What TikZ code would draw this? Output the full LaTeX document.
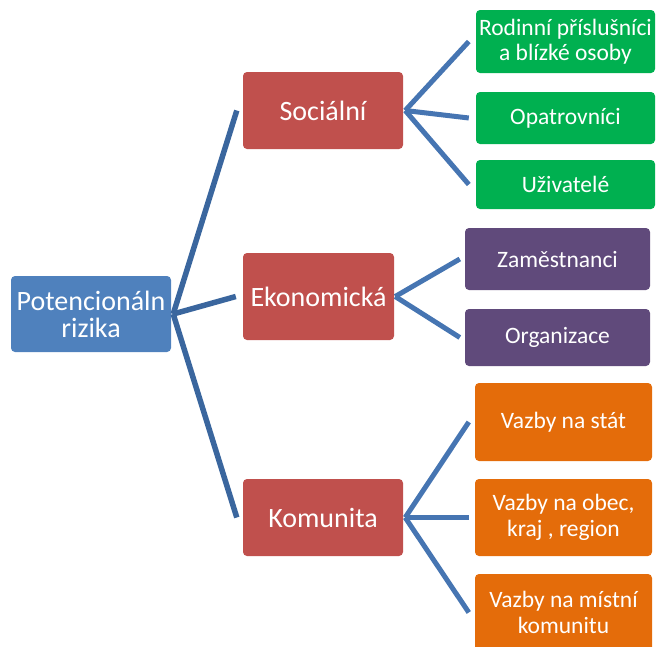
\documentclass[tikz,border=0pt]{standalone}
\usepackage{fontspec}
\setmainfont{Carlito}
\definecolor{rootblue}{HTML}{4F81BD}
\definecolor{lvlred}{HTML}{C0504D}
\definecolor{lvlgreen}{HTML}{00B050}
\definecolor{lvlpurple}{HTML}{604A7B}
\definecolor{lvlorange}{HTML}{E46C0A}
\definecolor{linkdark}{RGB}{58,102,158}
\definecolor{linkblue}{RGB}{70,117,178}
\begin{document}
\begin{tikzpicture}[x=1pt,y=-1pt,
  box/.style={rectangle, rounded corners=4pt, inner sep=0pt, text=white, align=center},
  bigtext/.style={font=\fontsize{28}{28}\selectfont},
  smalltext/.style={font=\fontsize{23.5}{25.5}\selectfont},
  rootbox/.style={box, bigtext, fill=rootblue, minimum width=160pt, minimum height=76pt},
  midbox/.style={box, bigtext, fill=lvlred, minimum height=77pt},
  leafbox/.style={box, smalltext},
  link0/.style={draw=linkdark, line width=5.5pt},
  link1/.style={draw=linkblue, line width=5pt}
]
\useasboundingbox (0,0) rectangle (656,646);
% root
\node[rootbox] (root) at (91,314) {Potencionáln\\[-1pt]rizika};
% level 1
\node[midbox, minimum width=160pt] (soc) at (323,110.5) {Sociální};
\node[midbox, minimum width=151pt, minimum height=87pt] (eko) at (318.5,296.5) {Ekonomická};
\node[midbox, minimum width=160pt] (kom) at (323,517.5) {Komunita};
% level 2 green
\node[leafbox, fill=lvlgreen, minimum width=179pt, minimum height=63pt] (g1) at (565.5,41.5) {Rodinní příslušníci\\a blízké osoby};
\node[leafbox, fill=lvlgreen, minimum width=179pt, minimum height=52pt] (g2) at (565.5,118) {Opatrovníci};
\node[leafbox, fill=lvlgreen, minimum width=179pt, minimum height=49pt] (g3) at (565.5,184.5) {Uživatelé};
% level 2 purple
\node[leafbox, fill=lvlpurple, minimum width=185pt, minimum height=62pt] (p1) at (557.5,259) {Zaměstnanci};
\node[leafbox, fill=lvlpurple, minimum width=185pt, minimum height=57pt] (p2) at (557.5,337.5) {Organizace};
% level 2 orange
\node[leafbox, fill=lvlorange, minimum width=177pt, minimum height=78pt] (o1) at (563.5,422) {Vazby na stát};
\node[leafbox, fill=lvlorange, minimum width=177pt, minimum height=77pt] (o2) at (563.5,517.5) {Vazby na obec,\\kraj , region};
\node[leafbox, fill=lvlorange, minimum width=177pt, minimum height=77pt] (o3) at (563.5,612.5) {Vazby na místní\\komunitu};
% junctions
\coordinate (j0) at ([xshift=2pt]root.east);
\coordinate (js) at ([xshift=2pt]soc.east);
\coordinate (je) at ([xshift=1pt]eko.east);
\coordinate (jk) at ([xshift=2pt]kom.east);
% root links
\draw[link0] (j0) -- ([xshift=-6pt]soc.west);
\draw[link0] (j0) -- ([xshift=-7pt]eko.west);
\draw[link0] (j0) -- ([xshift=-6pt]kom.west);
% social links
\draw[link1] (js) -- ([xshift=-7pt]g1.west);
\draw[link1] (js) -- ([xshift=-7pt]g2.west);
\draw[link1] (js) -- ([xshift=-7pt]g3.west);
% economic links
\draw[link1] (je) -- ([xshift=-5pt]p1.west);
\draw[link1] (je) -- ([xshift=-5pt]p2.west);
% community links
\draw[link1] (jk) -- ([xshift=-6pt]o1.west);
\draw[link1] (jk) -- ([xshift=-6pt]o2.west);
\draw[link1] (jk) -- ([xshift=-6pt]o3.west);
\end{tikzpicture}
\end{document}
